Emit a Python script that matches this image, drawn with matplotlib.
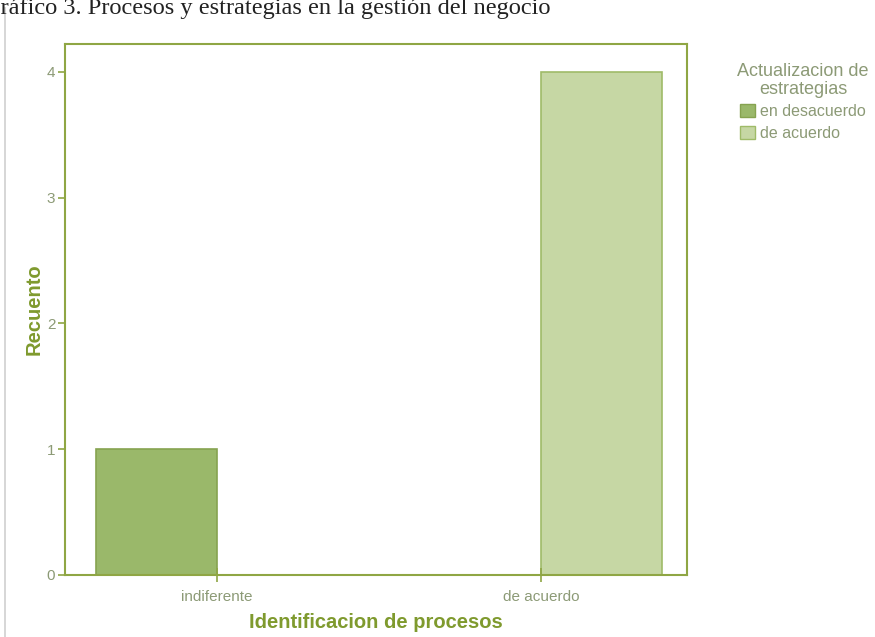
import numpy as np
import matplotlib.pyplot as plt
from matplotlib.patches import Patch
from matplotlib.lines import Line2D

# Recuento por categoria de "Identificacion de procesos",
# agrupado por "Actualizacion de estrategias"
categorias = ['indiferente', 'de acuerdo']
en_desacuerdo = [1, 0]
de_acuerdo = [0, 4]
y_ticks = [0, 1, 2, 3, 4]

OLIVE = '#8fa644'
TEXT = '#7f9a2e'
TICK_TXT = '#8c9a76'
C_DES = '#9ab86a'
C_ACU = '#c6d7a4'

plt.rcParams['font.family'] = ['Liberation Sans', 'DejaVu Sans']

fig = plt.figure(figsize=(8.75, 6.37), dpi=100)
ax = fig.add_axes([65 / 875, 1 - 575 / 637, 622 / 875, 531 / 637])

x = np.arange(len(categorias))
w = 0.373
ax.bar(x - w / 2, en_desacuerdo, width=w, color=C_DES, edgecolor='#86a350', linewidth=1.2)
ax.bar(x + w / 2, de_acuerdo, width=w, color=C_ACU, edgecolor='#9fbb68', linewidth=1.2)

ax.set_xlim(-0.469, 1.451)
ax.set_ylim(0, 4.22)
ax.set_xticks(x)
ax.set_xticklabels(categorias, fontsize=11, color=TICK_TXT)
ax.set_yticks(y_ticks)
ax.set_yticklabels([str(v) for v in y_ticks], fontsize=11, color=TICK_TXT)
ax.tick_params(axis='both', color=OLIVE, length=5, width=1.2, pad=2)
ax.tick_params(axis='x', direction='inout', length=10, pad=6)
for s in ax.spines.values():
    s.set_color(OLIVE)
    s.set_linewidth(1.5)

ax.set_ylabel('Recuento', fontsize=14.5, fontweight='bold', color=TEXT, labelpad=2)
ax.set_xlabel('Identificacion de procesos', fontsize=14.5, fontweight='bold', color=TEXT, labelpad=6)

handles = [Patch(facecolor=C_DES, edgecolor='#86a350'), Patch(facecolor=C_ACU, edgecolor='#9fbb68')]
leg = fig.legend(handles, ['en desacuerdo', 'de acuerdo'], title='Actualizacion de\nestrategias',
                 loc='upper left', bbox_to_anchor=(726 / 875, 1 - 52 / 637), frameon=False,
                 fontsize=11.5, title_fontsize=13, handlelength=0.9, handleheight=0.9,
                 handletextpad=0.3, labelspacing=0.4, borderpad=0.2)
leg.get_title().set_color(TICK_TXT)
leg.get_title().set_multialignment('center')
leg.get_title().set_linespacing(1.05)
for t in leg.get_texts():
    t.set_color(TICK_TXT)

# titulo recortado y borde gris del recuadro
fig.text(-17 / 875, 1 - 14 / 637, 'Gráfico 3. Procesos y estrategias en la gestión del negocio',
         family='Liberation Serif', fontsize=17.6, color='#222222', va='baseline', ha='left')
fig.add_artist(Line2D([5 / 875, 5 / 875], [0, 1 - 8 / 637], color='#cfcfcf', linewidth=1.2))

fig.savefig('out.png', dpi=100)
